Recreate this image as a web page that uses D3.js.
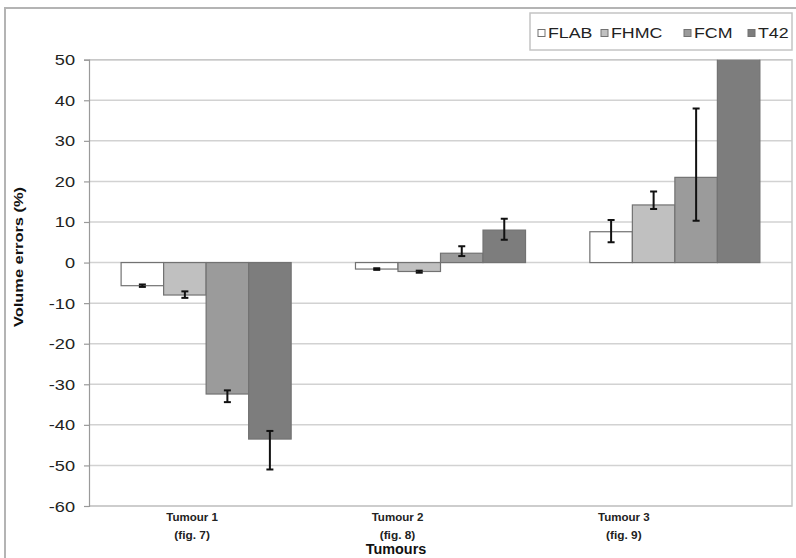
<!DOCTYPE html>
<html>
<head>
<meta charset="utf-8">
<script src="https://cdn.jsdelivr.net/npm/d3@7"></script>
<style>
  html, body { margin: 0; padding: 0; background: #fff; }
  svg { display: block; font-family: "Liberation Sans", Arial, sans-serif; }
</style>
</head>
<body>
<svg id="chart" width="796" height="558"></svg>
<script>
// Tumour volume errors per segmentation method
const categories = ["Tumour 1", "Tumour 2", "Tumour 3"];
const figRefs = ["(fig. 7)", "(fig. 8)", "(fig. 9)"];
const seriesNames = ["FLAB", "FHMC", "FCM", "T42"];

// bar values (%), one array per method, ordered by tumour
const flab = [-5.7, -1.6, 7.6];
const fhmc = [-8.0, -2.2, 14.2];
const fcm  = [-32.4, 2.3, 21.0];
const t42  = [-43.5, 8.0, 62.0];

// error bar ends (%), lower and upper, per method
const flabLow  = [-6.0, -1.8, 5.0],  flabHigh = [-5.4, -1.4, 10.5];
const fhmcLow  = [-8.7, -2.5, 13.2], fhmcHigh = [-7.1, -2.0, 17.5];
const fcmLow   = [-34.4, 1.6, 10.3], fcmHigh  = [-31.5, 4.0, 38.0];
const t42Low   = [-51.0, 5.6, 58.0], t42High  = [-41.5, 10.8, 66.0];

const yTicks = [50, 40, 30, 20, 10, 0, -10, -20, -30, -40, -50, -60];

const values = [flab, fhmc, fcm, t42];
const lows = [flabLow, fhmcLow, fcmLow, t42Low];
const highs = [flabHigh, fhmcHigh, fcmHigh, t42High];
const fills = ["#ffffff", "#c0c0c0", "#9b9b9b", "#7d7d7d"];

const rows = [];
seriesNames.forEach((s, si) => categories.forEach((c, ci) => {
  rows.push({ series: s, si, cat: c, value: values[si][ci], lo: lows[si][ci], hi: highs[si][ci] });
}));

const svg = d3.select("#chart");
const plot = { left: 89, right: 792, top: 59.7, bottom: 506 };

const y = d3.scaleLinear().domain([-60, 50]).range([plot.bottom, plot.top]);
const x0 = d3.scaleBand().domain(categories).range([plot.left, plot.right])
  .paddingInner(0.2745).paddingOuter(0.137);
const x1 = d3.scaleBand().domain(seriesNames).range([0, x0.bandwidth()]).padding(0);

// plain hyphen-minus for negative tick labels
const fmt = d => String(d);

// outer frame (top and left edges)
svg.append("path")
  .attr("d", "M5,558 L5,8 L796,8")
  .attr("fill", "none").attr("stroke", "#b4b4b4").attr("stroke-width", 2);

// gridlines
svg.append("g").selectAll("line").data(yTicks).join("line")
  .attr("x1", plot.left).attr("x2", plot.right)
  .attr("y1", d => y(d)).attr("y2", d => y(d))
  .attr("stroke", "#d2d2d2").attr("stroke-width", 1.5);

// plot area right and bottom border
svg.append("path")
  .attr("d", `M${plot.left},${plot.top} L${plot.right},${plot.top} L${plot.right},${plot.bottom} L${plot.left},${plot.bottom}`)
  .attr("fill", "none").attr("stroke", "#c8c8c8").attr("stroke-width", 1.5);

// value axis
const yAxis = svg.append("g").attr("transform", `translate(${plot.left},0)`)
  .call(d3.axisLeft(y).tickValues(yTicks).tickSize(5).tickPadding(0).tickFormat(fmt));
yAxis.select(".domain").attr("stroke", "#9a9a9a").attr("stroke-width", 1.2);
yAxis.selectAll(".tick line").attr("stroke", "#9a9a9a").attr("stroke-width", 1.2);
yAxis.selectAll(".tick text").remove();
yAxis.selectAll(".tick").append("text")
  .attr("text-anchor", "end")
  .attr("font-size", 14)
  .attr("fill", "#222")
  .attr("transform", "translate(-14,5) scale(1.3,1)")
  .text(fmt);

// clip to plot area
svg.append("clipPath").attr("id", "plotClip").append("rect")
  .attr("x", plot.left).attr("y", plot.top)
  .attr("width", plot.right - plot.left).attr("height", plot.bottom - plot.top);

const barsG = svg.append("g").attr("clip-path", "url(#plotClip)");
barsG.selectAll("rect").data(rows).join("rect")
  .attr("x", d => x0(d.cat) + x1(d.series))
  .attr("width", x1.bandwidth())
  .attr("y", d => y(Math.max(0, d.value)))
  .attr("height", d => Math.abs(y(d.value) - y(0)))
  .attr("fill", d => fills[d.si])
  .attr("stroke", "#727272").attr("stroke-width", 1.2);

// error bars
const errG = barsG.append("g").attr("stroke", "#111").attr("stroke-width", 2);
const capW = 3.5;
rows.forEach(d => {
  const cx = x0(d.cat) + x1(d.series) + x1.bandwidth() / 2;
  errG.append("line").attr("x1", cx).attr("x2", cx).attr("y1", y(d.lo)).attr("y2", y(d.hi));
  errG.append("line").attr("x1", cx - capW).attr("x2", cx + capW).attr("y1", y(d.lo)).attr("y2", y(d.lo));
  errG.append("line").attr("x1", cx - capW).attr("x2", cx + capW).attr("y1", y(d.hi)).attr("y2", y(d.hi));
});

// category labels (two lines each)
const labelShift = [-14, -43, -51];
const catG = svg.append("g").attr("font-weight", "bold").attr("font-size", 11).attr("fill", "#222")
  .attr("text-anchor", "middle");
categories.forEach((c, i) => {
  const cx = x0(c) + x0.bandwidth() / 2 + labelShift[i];
  catG.append("text").attr("transform", `translate(${cx},521) scale(1.05,1)`).text(c);
  catG.append("text").attr("transform", `translate(${cx},539) scale(1.08,1)`).text(figRefs[i]);
});

// axis titles
svg.append("text")
  .attr("transform", "translate(396,554) scale(1.03,1)")
  .attr("text-anchor", "middle").attr("font-weight", "bold").attr("font-size", 14).attr("fill", "#111")
  .text("Tumours");
svg.append("text")
  .attr("transform", "translate(23,257) rotate(-90)")
  .attr("text-anchor", "middle").attr("font-weight", "bold").attr("font-size", 13.5).attr("fill", "#111")
  .attr("textLength", 140).attr("lengthAdjust", "spacingAndGlyphs")
  .text("Volume errors (%)");

// legend
const legend = svg.append("g");
legend.append("rect").attr("x", 530).attr("y", 13).attr("width", 262).attr("height", 37)
  .attr("fill", "#fff").attr("stroke", "#c4c4c4").attr("stroke-width", 1.5);
const legendX = [538, 601, 684, 748];
seriesNames.forEach((s, i) => {
  legend.append("rect").attr("x", legendX[i]).attr("y", 29.5).attr("width", 7).attr("height", 7)
    .attr("fill", fills[i]).attr("stroke", "#727272").attr("stroke-width", 1);
  legend.append("text")
    .attr("transform", `translate(${legendX[i] + 10},38) scale(1.27,1)`)
    .attr("font-size", 14).attr("fill", "#222").text(s);
});
</script>
</body>
</html>
